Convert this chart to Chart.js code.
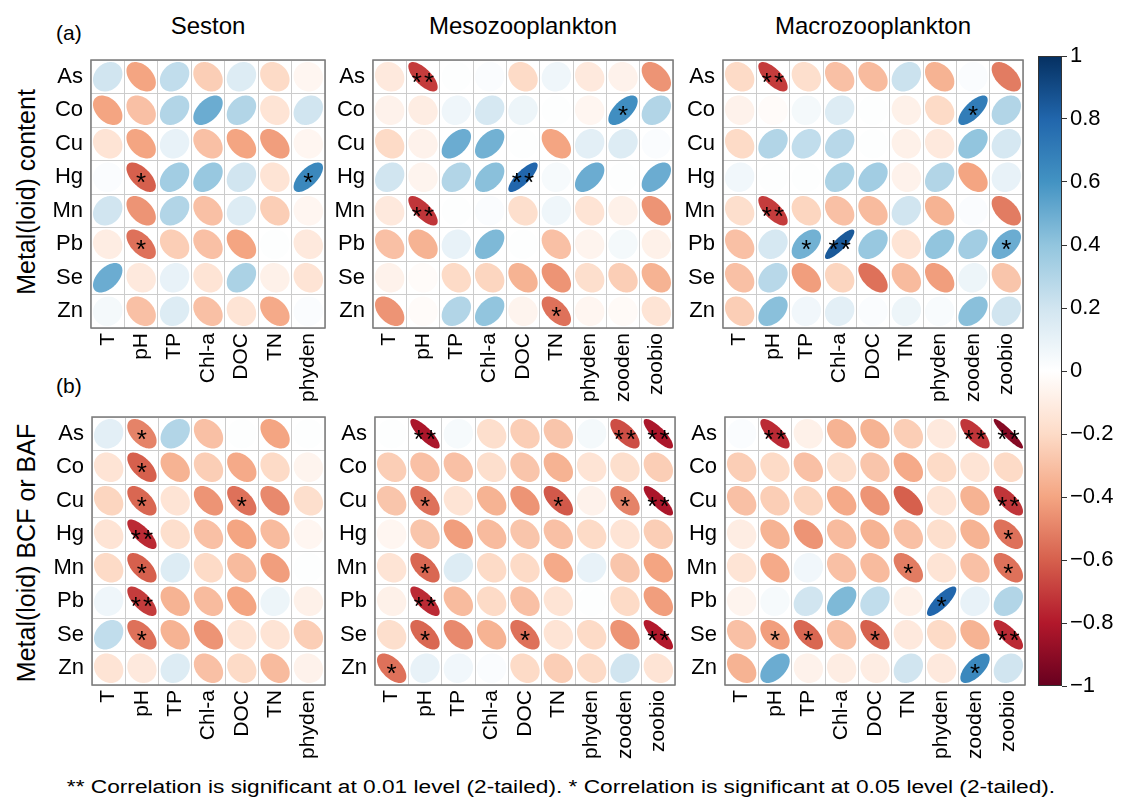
<!DOCTYPE html>
<html>
<head>
<meta charset="utf-8">
<script src="https://cdn.jsdelivr.net/npm/chart.js@4.4.1/dist/chart.umd.min.js"></script>
<style>
  body { margin: 0; background: #fff; width: 1121px; height: 809px; position: relative; overflow: hidden; font-family: "Liberation Sans", Arial, sans-serif; }
  canvas { position: absolute; }
  .t { position: absolute; white-space: nowrap; color: #000; line-height: 1; }
</style>
</head>
<body>
<div class="t" style="left:56px;top:22px;font-size:21px">(a)</div>
<div class="t" style="left:56px;top:375px;font-size:21px">(b)</div>
<div class="t" id="title-seston" style="font-size:24px">Seston</div>
<div class="t" id="title-meso" style="font-size:24px">Mesozooplankton</div>
<div class="t" id="title-macro" style="font-size:24px">Macrozooplankton</div>
<div class="t" style="left:26px;top:192px;font-size:25px;transform:translate(-50%,-50%) rotate(-90deg)">Metal(loid) content</div>
<div class="t" style="left:26px;top:553px;font-size:25px;transform:translate(-50%,-50%) rotate(-90deg)">Metal(loid) BCF or BAF</div>
<div class="t" style="left:561px;top:787px;font-size:18px;transform:translate(-50%,-50%) scaleX(1.26)">** Correlation is significant at 0.01 level (2-tailed). * Correlation is significant at 0.05 level (2-tailed).</div>

<script>
// rows / columns
const rows = ['As', 'Co', 'Cu', 'Hg', 'Mn', 'Pb', 'Se', 'Zn']
const sestonCols = ['T', 'pH', 'TP', 'Chl-a', 'DOC', 'TN', 'phyden']
const zooCols = ['T', 'pH', 'TP', 'Chl-a', 'DOC', 'TN', 'phyden', 'zooden', 'zoobio']

// (a) metal(loid) content
const sestonContent = [
  [0.2, -0.4, 0.25, -0.25, 0.15, -0.2, -0.05],
  [-0.4, -0.3, 0.3, 0.5, 0.3, -0.15, 0.2],
  [-0.15, -0.4, 0.1, -0.3, -0.4, -0.42, -0.05],
  [0.02, -0.6, 0.35, 0.38, 0.2, -0.15, 0.65],
  [0.2, -0.45, 0.3, -0.3, 0.15, -0.25, -0.05],
  [-0.1, -0.55, -0.25, -0.3, -0.4, 0.01, -0.12],
  [0.5, -0.12, 0.1, -0.15, 0.32, -0.08, -0.15],
  [0.05, -0.3, 0.15, -0.3, -0.15, -0.38, 0.02]
]
const mesoContent = [
  [-0.12, -0.7, 0.01, 0.02, -0.2, 0.07, -0.12, -0.07, -0.45],
  [-0.07, -0.1, 0.07, 0.18, 0.08, 0.01, -0.05, 0.62, 0.3],
  [-0.2, -0.07, 0.5, 0.48, 0.01, -0.4, 0.12, 0.15, 0.02],
  [0.2, -0.06, 0.3, 0.42, 0.8, 0.04, 0.5, 0.01, 0.5],
  [-0.12, -0.72, 0.01, 0.02, -0.18, 0.07, -0.15, -0.08, -0.45],
  [-0.3, -0.35, 0.1, 0.45, 0.01, -0.3, -0.06, 0.05, -0.08],
  [-0.07, -0.02, -0.2, -0.22, -0.35, -0.45, -0.18, -0.25, -0.35],
  [-0.45, -0.02, 0.3, 0.4, -0.06, -0.55, -0.05, -0.03, -0.15]
]
const macroContent = [
  [-0.2, -0.7, -0.18, -0.3, -0.32, 0.22, -0.35, 0.02, -0.52],
  [-0.07, -0.02, 0.05, 0.15, 0.01, -0.08, -0.2, 0.7, 0.3],
  [-0.2, 0.3, 0.25, 0.28, 0.01, -0.08, -0.12, 0.4, 0.18],
  [0.06, 0.01, 0.01, 0.32, 0.35, -0.07, 0.3, -0.4, 0.1],
  [-0.18, -0.7, -0.22, -0.3, -0.32, 0.2, -0.35, 0.02, -0.52],
  [-0.3, 0.18, 0.48, 0.85, 0.38, -0.15, 0.4, 0.35, 0.5],
  [-0.3, 0.28, -0.42, -0.22, -0.55, -0.32, -0.42, 0.08, -0.28],
  [-0.25, 0.42, 0.06, 0.12, 0.02, 0.08, 0.03, 0.42, 0.2]
]

// (b) BCF or BAF
const sestonBcf = [
  [0.12, -0.5, 0.3, -0.3, 0.01, -0.4, 0.01],
  [-0.15, -0.6, -0.35, -0.25, -0.38, -0.2, -0.06],
  [-0.22, -0.58, -0.15, -0.45, -0.55, -0.48, -0.18],
  [-0.15, -0.75, -0.18, -0.3, -0.4, -0.32, -0.05],
  [-0.2, -0.6, 0.15, -0.2, -0.32, -0.42, 0.01],
  [0.07, -0.7, -0.35, -0.32, -0.4, 0.08, -0.08],
  [0.25, -0.55, -0.35, -0.45, -0.15, -0.15, -0.25],
  [-0.15, -0.12, 0.15, -0.3, -0.2, -0.32, -0.07]
]
const mesoBcf = [
  [0.01, -0.82, 0.04, -0.18, -0.25, -0.28, 0.05, -0.65, -0.82],
  [-0.25, -0.3, -0.3, -0.18, -0.28, -0.35, -0.15, -0.18, -0.25],
  [-0.28, -0.55, -0.15, -0.35, -0.45, -0.62, -0.07, -0.5, -0.82],
  [-0.05, -0.28, -0.42, -0.32, -0.28, -0.3, -0.2, -0.15, -0.25],
  [-0.15, -0.58, 0.15, -0.2, -0.2, -0.38, 0.1, -0.28, -0.4],
  [-0.08, -0.75, -0.32, -0.2, -0.3, -0.15, 0.01, -0.2, -0.42],
  [-0.18, -0.58, -0.48, -0.35, -0.55, -0.15, -0.2, -0.45, -0.8],
  [-0.55, 0.1, 0.06, 0.02, -0.2, -0.25, -0.2, 0.2, -0.15]
]
const macroBcf = [
  [0.02, -0.75, -0.08, -0.35, -0.35, -0.25, -0.12, -0.72, -0.92],
  [-0.25, -0.2, -0.3, -0.18, -0.28, -0.38, -0.2, -0.15, -0.2],
  [-0.3, -0.25, -0.22, -0.38, -0.45, -0.6, -0.15, -0.35, -0.72],
  [-0.1, -0.35, -0.45, -0.32, -0.35, -0.3, -0.18, -0.35, -0.55],
  [-0.15, -0.38, 0.06, -0.3, -0.32, -0.52, -0.15, -0.3, -0.55],
  [-0.06, 0.04, 0.2, 0.45, 0.25, -0.08, 0.8, 0.1, 0.3],
  [-0.3, -0.42, -0.58, -0.3, -0.6, -0.12, -0.2, -0.35, -0.75],
  [-0.35, 0.5, -0.07, -0.1, -0.1, 0.2, -0.12, 0.65, 0.2]
]

// significance marks [row, column, mark]
const sestonContentSig = [['Hg', 'pH', '*'], ['Hg', 'phyden', '*'], ['Pb', 'pH', '*']]
const mesoContentSig = [['As', 'pH', '**'], ['Co', 'zooden', '*'], ['Hg', 'DOC', '**'], ['Mn', 'pH', '**'], ['Zn', 'TN', '*']]
const macroContentSig = [['As', 'pH', '**'], ['Co', 'zooden', '*'], ['Mn', 'pH', '**'], ['Pb', 'TP', '*'], ['Pb', 'Chl-a', '**'], ['Pb', 'zoobio', '*']]
const sestonBcfSig = [['As', 'pH', '*'], ['Co', 'pH', '*'], ['Cu', 'pH', '*'], ['Cu', 'DOC', '*'], ['Hg', 'pH', '**'], ['Mn', 'pH', '*'], ['Pb', 'pH', '**'], ['Se', 'pH', '*']]
const mesoBcfSig = [['As', 'pH', '**'], ['As', 'zooden', '**'], ['As', 'zoobio', '**'], ['Cu', 'pH', '*'], ['Cu', 'TN', '*'], ['Cu', 'zooden', '*'], ['Cu', 'zoobio', '**'],
  ['Mn', 'pH', '*'], ['Pb', 'pH', '**'], ['Se', 'pH', '*'], ['Se', 'DOC', '*'], ['Se', 'zoobio', '**'], ['Zn', 'T', '*']]
const macroBcfSig = [['As', 'pH', '**'], ['As', 'zooden', '**'], ['As', 'zoobio', '**'], ['Cu', 'zoobio', '**'], ['Hg', 'zoobio', '*'], ['Mn', 'TN', '*'], ['Mn', 'zoobio', '*'],
  ['Pb', 'phyden', '*'], ['Se', 'pH', '*'], ['Se', 'TP', '*'], ['Se', 'DOC', '*'], ['Se', 'zoobio', '**'], ['Zn', 'zooden', '*']]

// colour bar
const rdBu = ['#67001F', '#B2182B', '#D6604D', '#F4A582', '#FDDBC7', '#FFFFFF', '#D1E5F0', '#92C5DE', '#4393C3', '#2166AC', '#053061']

Chart.defaults.font.family = '"Liberation Sans", Arial, sans-serif'
Chart.defaults.color = '#000'

function hexToRgb(h) {
  return [1, 3, 5].map(i => parseInt(h.substr(i, 2), 16))
}
function corrColor(r) {
  const p = (Math.max(-1, Math.min(1, r)) + 1) / 2 * (rdBu.length - 1)
  const i = Math.min(Math.floor(p), rdBu.length - 2)
  const f = p - i
  const a = hexToRgb(rdBu[i]), b = hexToRgb(rdBu[i + 1])
  const c = a.map((v, k) => Math.round(v + (b[k] - v) * f))
  return `rgb(${c[0]},${c[1]},${c[2]})`
}

const ellipsePlugin = {
  id: 'ellipses',
  afterDatasetsDraw(chart) {
    const {ctx, chartArea, scales} = chart
    const cw = scales.x.width / scales.x.getLabels().length
    const ch = scales.y.height / scales.y.getLabels().length
    const pts = chart.data.datasets[0].data
    chart.getDatasetMeta(0).data.forEach((el, i) => {
      const r = pts[i].v
      const d = Math.acos(r) / 2
      ctx.beginPath()
      for (let k = 0; k <= 90; k++) {
        const t = k / 90 * 2 * Math.PI
        const px = el.x + 0.44 * cw * Math.cos(t + d)
        const py = el.y - 0.44 * ch * Math.cos(t - d)
        k ? ctx.lineTo(px, py) : ctx.moveTo(px, py)
      }
      ctx.closePath()
      ctx.fillStyle = corrColor(r)
      ctx.fill()
      if (pts[i].s) {
        ctx.fillStyle = '#000'
        ctx.font = '26px "Liberation Sans", Arial, sans-serif'
        ctx.textAlign = 'center'
        ctx.textBaseline = 'middle'
        ctx.fillText(pts[i].s.split('').join('\u200a'), el.x, el.y + 7)
      }
    })
    ctx.strokeStyle = '#7a7a7a'
    ctx.lineWidth = 1.5
    ctx.strokeRect(chartArea.left, chartArea.top, chartArea.width, chartArea.height)
  }
}

const Y_AXIS_W = 60, X_AXIS_H = 90, PAD = 4, GRID_H = 268

function addPanel(cols, vals, sig, left, top, width) {
  const canvas = document.createElement('canvas')
  canvas.width = width + Y_AXIS_W + PAD
  canvas.height = GRID_H + X_AXIS_H + PAD
  canvas.style.left = (left - Y_AXIS_W) + 'px'
  canvas.style.top = (top - PAD) + 'px'
  document.body.appendChild(canvas)

  const data = []
  rows.forEach((row, i) => cols.forEach((col, j) => {
    const mark = sig.find(s => s[0] === row && s[1] === col)
    data.push({x: col, y: row, v: vals[i][j], s: mark ? mark[2] : ''})
  }))

  new Chart(canvas, {
    type: 'scatter',
    data: {datasets: [{data: data, pointRadius: 0}]},
    options: {
      responsive: false,
      animation: false,
      events: [],
      layout: {padding: {top: PAD, right: PAD, left: 0, bottom: 0}},
      plugins: {legend: {display: false}, tooltip: {enabled: false}},
      scales: {
        x: {
          type: 'category', labels: cols, offset: true,
          grid: {offset: true, color: '#cccccc', drawTicks: false},
          border: {display: false},
          ticks: {font: {size: 21}, minRotation: 90, maxRotation: 90, autoSkip: false, padding: 5},
          afterFit: s => { s.height = X_AXIS_H; s.paddingLeft = 0; s.paddingRight = 0 }
        },
        y: {
          type: 'category', labels: rows, offset: true,
          grid: {offset: true, color: '#cccccc', drawTicks: false},
          border: {display: false},
          ticks: {font: {size: 22}, autoSkip: false, padding: 8},
          afterFit: s => { s.width = Y_AXIS_W; s.paddingTop = 0; s.paddingBottom = 0 }
        }
      }
    },
    plugins: [ellipsePlugin]
  })
}

addPanel(sestonCols, sestonContent, sestonContentSig, 91, 60, 234)
addPanel(zooCols, mesoContent, mesoContentSig, 373, 60, 300)
addPanel(zooCols, macroContent, macroContentSig, 723, 60, 300)
addPanel(sestonCols, sestonBcf, sestonBcfSig, 92, 417, 233)
addPanel(zooCols, mesoBcf, mesoBcfSig, 375, 417, 300)
addPanel(zooCols, macroBcf, macroBcfSig, 725, 417, 300)

// titles centred on the panels
function placeTitle(id, cx) {
  const el = document.getElementById(id)
  el.style.left = cx + 'px'
  el.style.top = '26px'
  el.style.transform = 'translate(-50%,-50%)'
}
placeTitle('title-seston', 208)
placeTitle('title-meso', 523)
placeTitle('title-macro', 873)

// colour bar
const barPlugin = {
  id: 'bar',
  beforeDatasetsDraw(chart) {
    const {ctx, chartArea} = chart
    const g = ctx.createLinearGradient(0, chartArea.bottom, 0, chartArea.top)
    rdBu.forEach((c, i) => g.addColorStop(i / (rdBu.length - 1), c))
    ctx.fillStyle = g
    ctx.fillRect(chartArea.left, chartArea.top, chartArea.width, chartArea.height)
    ctx.strokeStyle = '#333'
    ctx.lineWidth = 1
    ctx.strokeRect(chartArea.left + 0.5, chartArea.top + 0.5, chartArea.width - 1, chartArea.height - 1)
  }
}
const barCanvas = document.createElement('canvas')
barCanvas.width = 24 + 62
barCanvas.height = 630 + 30
barCanvas.style.left = '1038px'
barCanvas.style.top = (56 - 15) + 'px'
document.body.appendChild(barCanvas)
new Chart(barCanvas, {
  type: 'scatter',
  data: {datasets: []},
  options: {
    responsive: false,
    animation: false,
    events: [],
    layout: {padding: {top: 15, bottom: 15, left: 0, right: 0}},
    plugins: {legend: {display: false}, tooltip: {enabled: false}},
    scales: {
      x: {display: false, min: 0, max: 1},
      y: {
        position: 'right', min: -1, max: 1,
        grid: {drawOnChartArea: false, drawTicks: true, tickLength: 5, color: '#333'},
        border: {display: false},
        ticks: {
          stepSize: 0.2, font: {size: 22}, padding: 3,
          callback: v => {
            const n = Math.round(v * 10) / 10
            return n === 0 ? '0' : String(n).replace('-', '\u2212')
          }
        },
        afterFit: s => { s.width = 62; s.paddingTop = 0; s.paddingBottom = 0 }
      }
    }
  },
  plugins: [barPlugin]
})
</script>
</body>
</html>
